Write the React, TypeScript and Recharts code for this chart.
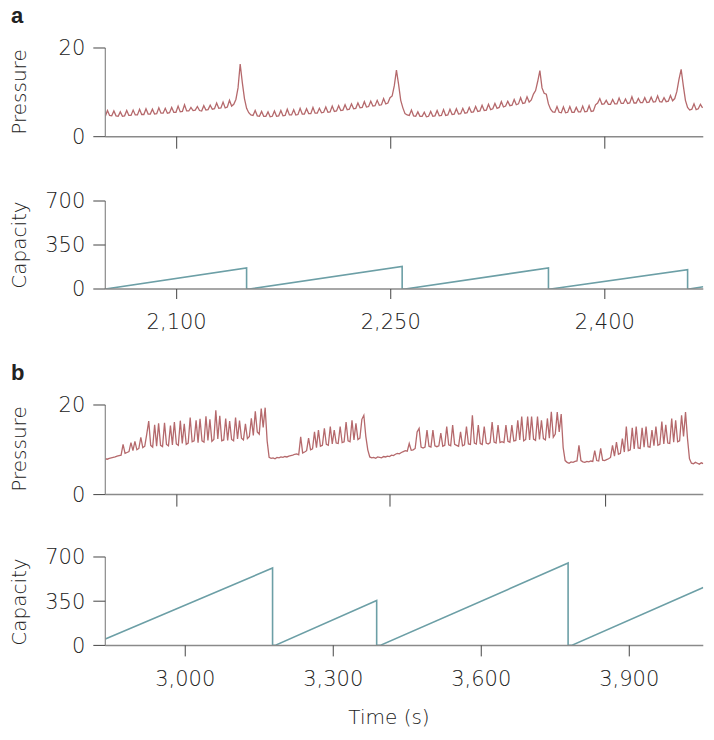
import { Line, LineChart, XAxis, YAxis } from "recharts";

const pressureStartA = 2050;
const pressureStepA = 1.5;
const pressureA = [
  4.6, 5.9, 4.8, 4.7, 5.8, 4.7, 4.6, 5.6, 4.6, 4.7, 5.9, 4.8, 4.8, 6.0, 4.9, 4.9, 6.2, 5.0, 5.0, 6.3, 5.1, 5.1, 6.2, 5.1, 5.2, 6.5, 5.3, 5.3, 6.4, 5.3,
  5.4, 6.6, 5.5, 5.5, 6.9, 5.6, 5.7, 7.2, 5.8, 5.8, 6.6, 5.9, 6.0, 6.8, 5.9, 5.8, 7.0, 6.0, 6.1, 7.1, 6.2, 6.3, 7.6, 6.4, 6.5, 7.8, 6.5, 6.7, 8.2, 6.9,
  7.3, 8.4, 11.0, 16.4, 12.2, 8.6, 6.4, 5.4, 4.9,
  4.8, 5.9, 4.7, 4.6, 5.7, 4.6, 4.6, 5.6, 4.5, 4.6, 5.8, 4.6, 4.7, 5.9, 4.7, 4.8, 6.2, 4.9, 4.9, 6.1, 4.9, 5.0, 6.4, 5.1, 5.1, 6.3, 5.2, 5.2, 6.6, 5.3, 5.3, 6.4, 5.4,
  5.5, 6.7, 5.5, 5.6, 6.9, 5.7, 5.8, 7.0, 5.9, 6.0, 7.2, 6.1, 6.2, 7.4, 6.3, 6.4, 7.6, 6.5, 6.6, 7.9, 6.7, 6.8, 8.0, 6.9, 7.0, 8.2, 7.1, 7.2, 8.6, 7.4, 7.6, 8.8,
  9.2, 11.5, 15.0, 11.8, 8.2, 6.5, 5.2, 4.9,
  4.8, 6.0, 4.7, 4.6, 5.6, 4.6, 4.6, 5.5, 4.5, 4.6, 5.7, 4.6, 4.7, 5.9, 4.7, 4.8, 6.1, 4.8, 4.9, 6.2, 5.0, 5.1, 6.3, 5.1, 5.2, 6.4, 5.3, 5.4, 6.6, 5.5,
  5.6, 6.8, 5.7, 5.8, 7.1, 5.9, 6.0, 7.3, 6.1, 6.3, 7.5, 6.4, 6.6, 7.9, 6.7, 6.9, 8.0, 7.0, 7.1, 8.4, 7.2, 7.4, 8.8, 7.5, 7.6, 9.0, 7.8,
  8.3, 9.6, 10.4, 12.5, 14.9, 11.0, 9.8, 9.6, 7.4, 6.2, 5.6,
  5.5, 6.8, 5.5, 5.4, 6.7, 5.4, 5.5, 6.8, 5.5, 5.5, 6.6, 5.6, 5.6, 6.9, 5.6, 5.7, 7.0, 5.7, 5.8, 7.2,
  7.6, 8.6, 7.3, 7.4, 8.2, 7.3, 7.3, 8.4, 7.4, 7.4, 8.7, 7.5, 7.5, 8.5, 7.5, 7.6, 9.0, 7.6, 7.6, 8.6, 7.7, 7.7, 8.8, 7.7, 7.8, 8.9, 7.8, 7.9, 9.2, 7.9, 7.8, 8.8, 7.9, 8.0, 9.3, 8.1,
  8.6, 10.2, 13.0, 15.2, 11.5, 8.2, 6.6, 6.0, 6.2, 7.4, 6.1, 6.3, 7.3, 6.5,
];

const pressureStartB = 2838;
const pressureStepB = 4;
const pressureB = [
  8.0, 7.9, 8.1, 8.2, 8.3, 8.4, 8.6, 8.7, 8.8, 11.2, 9.2, 9.4, 9.6, 11.6, 9.8, 11.9, 10.0, 10.3, 12.8, 10.5, 10.8, 13.5,
  16.4, 11.0, 10.6, 15.6, 10.8, 15.9, 11.0, 10.7, 16.0, 11.2, 10.9, 15.4, 11.1, 16.2, 11.3, 11.0, 16.5, 11.4, 15.8, 11.2, 11.5, 17.2, 11.8, 12.0, 16.6, 11.6, 16.9, 12.0, 11.7, 17.5,
  12.1, 16.8, 11.9, 12.3, 18.8, 12.4, 17.6, 12.0, 12.2, 17.0, 12.1, 16.4, 12.3, 12.0, 17.2, 12.4, 16.5, 12.6, 12.2, 15.8, 12.5, 13.0, 17.0, 13.2, 18.6, 14.0, 13.5, 19.2, 15.0, 19.4, 12.0, 8.3,
  8.1, 8.2, 8.0, 8.3, 8.2, 8.4, 8.3, 8.5, 8.4, 8.6, 8.7, 8.8, 9.0, 9.1, 8.9,
  12.9, 9.3, 9.5, 9.8, 12.6, 10.0, 10.2, 14.0, 10.5, 14.4, 10.8, 11.0, 14.8, 11.2, 11.0, 15.2, 11.3, 14.4, 11.5, 11.4, 15.2, 11.6, 11.8, 16.2, 12.0, 11.8, 16.6, 12.2, 15.9, 12.3, 12.6, 16.8, 17.7, 13.0, 10.0, 8.4,
  8.2, 8.3, 8.1, 8.4, 8.3, 8.2, 8.5, 8.4, 8.6, 8.5, 8.8, 8.7, 9.0, 9.2, 9.1, 9.4,
  9.6, 9.8, 9.7, 11.4, 9.9, 10.0, 10.3, 14.0, 14.8, 10.6, 10.4, 10.6, 14.4, 10.8, 10.6, 14.4, 10.9, 10.7, 10.9, 13.7, 10.8, 11.0, 15.2, 11.1, 10.9, 15.5, 11.2, 11.0, 10.8, 14.0,
  10.9, 11.1, 15.2, 11.3, 11.2, 17.7, 11.5, 11.3, 15.5, 11.4, 11.2, 15.2, 11.5, 11.3, 11.6, 16.2, 11.7, 11.5, 15.5, 11.6, 11.8, 11.6, 15.5, 11.9, 11.7, 15.5, 12.0, 12.1, 16.6, 12.2,
  17.4, 12.0, 12.3, 17.4, 12.2, 17.4, 12.4, 12.1, 17.4, 12.3, 16.6, 12.5, 12.2, 17.0, 12.6, 18.5, 12.8, 13.5, 18.4, 14.0, 18.0, 10.5, 7.6,
  7.2, 7.0, 7.3, 7.2, 7.4, 7.5, 11.0, 7.6, 7.3, 7.2, 7.4, 7.3, 7.5, 7.4, 9.8, 7.6, 7.5, 10.3, 7.7, 7.6, 7.8, 8.0, 8.3, 11.0,
  8.6, 11.7, 9.0, 9.2, 12.5, 9.5, 15.2, 9.8, 10.0, 14.9, 10.2, 15.2, 10.4, 10.3, 14.9, 10.6, 15.2, 10.7, 10.6, 14.4, 10.9, 15.2, 11.0, 11.2, 16.3, 11.3, 15.6, 11.5, 11.4, 17.0, 11.7, 16.6, 11.8, 12.0, 17.7, 13.0, 18.4, 12.5,
  8.0, 7.0, 6.9, 7.2, 7.0, 6.8, 7.1, 6.9,
];

// capacity ramps: break points only (straight segments between)
const capacityTimesA = [2050, 2149, 2149, 2151, 2258, 2258, 2260, 2360.5, 2360.5, 2362, 2458, 2458, 2459, 2469];
const capacityValuesA = [0, 167, 0, 0, 180, 0, 0, 167, 0, 0, 154, 0, 0, 18];

const capacityTimesB = [2838, 3177, 3177, 3182, 3388, 3388, 3395, 3776, 3776, 3783, 4050];
const capacityValuesB = [51, 613, 0, 0, 356, 0, 0, 652, 0, 0, 459];

const timeDomainA: [number, number] = [2050, 2469];
const timeDomainB: [number, number] = [2838, 4050];
const timeTicksA = [2100, 2250, 2400];
const timeTicksB = [3000, 3300, 3600, 3900];
// the b pressure panel reuses panel a's tick spacing in the original figure
const pressureTicksB = [2983, 3415, 3852];

const pressureTicks = [0, 20];
const capacityTicks = [0, 350, 700];

const PRESSURE_COLOR = "#b5696c";
const CAPACITY_COLOR = "#6c9fa6";
const FONT = "'DejaVu Sans', sans-serif";
const TEXT = "#222";

const dataPressureA = pressureA.map((p, i) => ({ t: pressureStartA + i * pressureStepA, v: p }));
const dataPressureB = pressureB.map((p, i) => ({ t: pressureStartB + i * pressureStepB, v: p }));
const dataCapacityA = capacityTimesA.map((t, i) => ({ t, v: capacityValuesA[i] }));
const dataCapacityB = capacityTimesB.map((t, i) => ({ t, v: capacityValuesB[i] }));

const fmt = (n: number) => n.toLocaleString("en-US");

interface PanelProps {
  plotTop: number;
  plotHeight: number;
  data: { t: number; v: number }[];
  color: string;
  strokeWidth: number;
  xDomain: [number, number];
  xTicks: number[];
  xLabels: boolean;
  xTickSize: number;
  yMax: number;
  yTicks: number[];
}

function Panel({ plotTop, plotHeight, data, color, strokeWidth, xDomain, xTicks, xLabels, xTickSize, yMax, yTicks }: PanelProps) {
  const padTop = 20;
  const height = padTop + plotHeight + 40 + 20;
  return (
    <div style={{ position: "absolute", left: 0, top: plotTop - padTop }}>
      <LineChart width={714} height={height} data={data} margin={{ top: padTop, right: 10.7, bottom: 20, left: 45.3 }}>
        <XAxis
          dataKey="t"
          type="number"
          domain={xDomain}
          ticks={xTicks}
          interval={0}
          allowDataOverflow
          height={40}
          tickSize={xTickSize}
          tickMargin={15}
          tickFormatter={xLabels ? fmt : () => ""}
          axisLine={{ stroke: "#8a8a8a", strokeWidth: 1.5 }}
          tickLine={{ stroke: "#444" }}
          tick={{ fill: TEXT, fontSize: 21, fontFamily: FONT, fontWeight: 300 }}
        />
        <YAxis
          type="number"
          domain={[0, yMax]}
          ticks={yTicks}
          interval={0}
          allowDataOverflow
          width={60}
          tickSize={12}
          tickMargin={8}
          axisLine={{ stroke: "#8a8a8a", strokeWidth: 1.2 }}
          tickLine={{ stroke: "#444" }}
          tick={{ fill: TEXT, fontSize: 21, fontFamily: FONT, fontWeight: 300 }}
        />
        <Line
          type="linear"
          dataKey="v"
          stroke={color}
          strokeWidth={strokeWidth}
          dot={false}
          isAnimationActive={false}
        />
      </LineChart>
    </div>
  );
}

function Titles() {
  const rot = (label: string, cy: number) => (
    <text
      x={26}
      y={cy}
      transform={`rotate(-90, 26, ${cy})`}
      textAnchor="middle"
      fill={TEXT}
      fontSize={20}
      fontFamily={FONT}
      fontWeight={300}
    >
      {label}
    </text>
  );
  return (
    <svg width={714} height={740} style={{ position: "absolute", left: 0, top: 0, pointerEvents: "none" }}>
      <text x={11} y={23} fontSize={22} fontWeight={700} fontFamily="'Liberation Sans', Arial, sans-serif" fill="#222">
        a
      </text>
      <text x={11} y={380} fontSize={22} fontWeight={700} fontFamily="'Liberation Sans', Arial, sans-serif" fill="#222">
        b
      </text>
      {rot("Pressure", 92)}
      {rot("Capacity", 245)}
      {rot("Pressure", 449)}
      {rot("Capacity", 602)}
      <text x={389} y={724} textAnchor="middle" fill={TEXT} fontSize={20} fontFamily={FONT} fontWeight={300}>
        Time (s)
      </text>
    </svg>
  );
}

export default function App() {
  return (
    <div style={{ position: "absolute", left: 0, top: 0, width: 714, height: 740, background: "#fff" }}>
      <Panel plotTop={48} plotHeight={88.7} data={dataPressureA} color={PRESSURE_COLOR} strokeWidth={1.3}
        xDomain={timeDomainA} xTicks={timeTicksA} xLabels={false} xTickSize={12} yMax={20} yTicks={pressureTicks} />
      <Panel plotTop={200.7} plotHeight={88} data={dataCapacityA} color={CAPACITY_COLOR} strokeWidth={1.6}
        xDomain={timeDomainA} xTicks={timeTicksA} xLabels xTickSize={10} yMax={700} yTicks={capacityTicks} />
      <Panel plotTop={404.7} plotHeight={89.6} data={dataPressureB} color={PRESSURE_COLOR} strokeWidth={1.3}
        xDomain={timeDomainB} xTicks={pressureTicksB} xLabels={false} xTickSize={12} yMax={20} yTicks={pressureTicks} />
      <Panel plotTop={557.3} plotHeight={88.4} data={dataCapacityB} color={CAPACITY_COLOR} strokeWidth={1.6}
        xDomain={timeDomainB} xTicks={timeTicksB} xLabels xTickSize={11} yMax={700} yTicks={capacityTicks} />
      <Titles />
    </div>
  );
}
